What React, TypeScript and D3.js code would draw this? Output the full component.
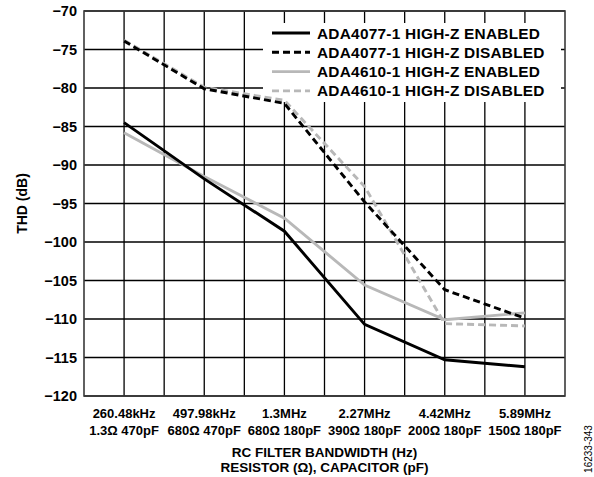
import React from "react";
import * as d3 from "d3";

const categories = ["260.48kHz", "497.98kHz", "1.3MHz", "2.27MHz", "4.42MHz", "5.89MHz"];
const components = ["1.3Ω 470pF", "680Ω 470pF", "680Ω 180pF", "390Ω 180pF", "200Ω 180pF", "150Ω 180pF"];
const ada4077Enabled = [-84.5, -91.8, -98.6, -110.7, -115.3, -116.2];
const ada4077Disabled = [-73.9, -80.1, -82.0, -94.8, -106.2, -109.9];
const ada4610Enabled = [-85.8, -91.5, -96.9, -105.6, -110.1, -109.2];
const ada4610Disabled = [-73.8, -79.9, -81.6, -92.8, -110.6, -110.9];
const yTicks = [-70, -75, -80, -85, -90, -95, -100, -105, -110, -115, -120];
const seriesNames = [
  "ADA4077-1 HIGH-Z ENABLED",
  "ADA4077-1 HIGH-Z DISABLED",
  "ADA4610-1 HIGH-Z ENABLED",
  "ADA4610-1 HIGH-Z DISABLED",
];

const W = 594;
const H = 477;
const L = 84, R = 565, T = 11, B = 396;
const FONT = "'Liberation Sans', Arial, Helvetica, sans-serif";
const GRAY = "#b8b8b8";

export default function App() {
  const x = d3.scaleLinear().domain([-0.5, 5.5]).range([L, R]);
  const y = d3.scaleLinear().domain([-120, -70]).range([B, T]);
  const line = d3
    .line<number>()
    .x((_, i) => x(i))
    .y((d) => y(d));

  const series = [
    { name: seriesNames[2], data: ada4610Enabled, color: GRAY, dash: "none" },
    { name: seriesNames[3], data: ada4610Disabled, color: GRAY, dash: "7,4" },
    { name: seriesNames[0], data: ada4077Enabled, color: "#000", dash: "none" },
    { name: seriesNames[1], data: ada4077Disabled, color: "#000", dash: "7,4" },
  ];
  const legendOrder = [series[2], series[3], series[0], series[1]];

  const vGrid = d3.range(1, 12).map((k) => -0.5 + k * 0.5);

  const fmt = (v: number) => (v < 0 ? "\u2212" + Math.abs(v) : String(v));

  return (
    <svg
      width={W}
      height={H}
      style={{ position: "absolute", left: 0, top: 0, background: "#fff" }}
      fontFamily={FONT}
    >
      <rect x={0} y={0} width={W} height={H} fill="#fff" />
      {/* grid */}
      {vGrid.map((v) => (
        <line key={"v" + v} x1={x(v)} x2={x(v)} y1={T} y2={B} stroke="#000" strokeWidth={1.3} />
      ))}
      {yTicks.map((t) => (
        <line key={"h" + t} x1={L} x2={R} y1={y(t)} y2={y(t)} stroke="#000" strokeWidth={1.3} />
      ))}
      {/* legend background */}
      <rect x={263} y={23} width={298} height={79} fill="#fff" />
      {/* frame */}
      <rect x={L} y={T} width={R - L} height={B - T} fill="none" stroke="#3a3a3a" strokeWidth={1.6} />
      {/* series */}
      {series.map((s) => (
        <path
          key={s.name}
          d={line(s.data) || ""}
          fill="none"
          stroke={s.color}
          strokeWidth={2.9}
          strokeDasharray={s.dash}
          strokeLinejoin="miter"
        />
      ))}
      {/* legend */}
      {legendOrder.map((s, i) => {
        const ly = 33 + i * 19.3;
        return (
          <g key={"lg" + s.name}>
            <line x1={272} x2={310} y1={ly} y2={ly} stroke={s.color} strokeWidth={2.9} strokeDasharray={s.dash} />
            <text x={317} y={ly} dy="0.36em" fontSize={15.4} letterSpacing={0.25} fontWeight="bold" fill="#000">
              {s.name}
            </text>
          </g>
        );
      })}
      {/* y ticks */}
      {yTicks.map((t) => (
        <text key={"yt" + t} x={77} y={y(t)} dy="0.36em" textAnchor="end" fontSize={14.5} fontWeight="bold">
          {fmt(t)}
        </text>
      ))}
      {/* x ticks */}
      {categories.map((c, i) => (
        <g key={"xt" + c}>
          <text x={x(i)} y={417.5} textAnchor="middle" fontSize={13} fontWeight="bold">
            {c}
          </text>
          <text x={x(i)} y={434.5} textAnchor="middle" fontSize={13} fontWeight="bold">
            {components[i]}
          </text>
        </g>
      ))}
      {/* axis titles */}
      <text x={(L + R) / 2} y={456.5} textAnchor="middle" fontSize={13.5} fontWeight="bold">
        RC FILTER BANDWIDTH (Hz)
      </text>
      <text x={(L + R) / 2} y={472} textAnchor="middle" fontSize={13.5} fontWeight="bold">
        RESISTOR (Ω), CAPACITOR (pF)
      </text>
      <text
        transform={`translate(27, ${(T + B) / 2}) rotate(-90)`}
        textAnchor="middle"
        fontSize={14}
        fontWeight="bold"
      >
        THD (dB)
      </text>
      <text transform={`translate(592, 449) rotate(-90)`} textAnchor="middle" fontSize={10}>
        16233-343
      </text>
    </svg>
  );
}
